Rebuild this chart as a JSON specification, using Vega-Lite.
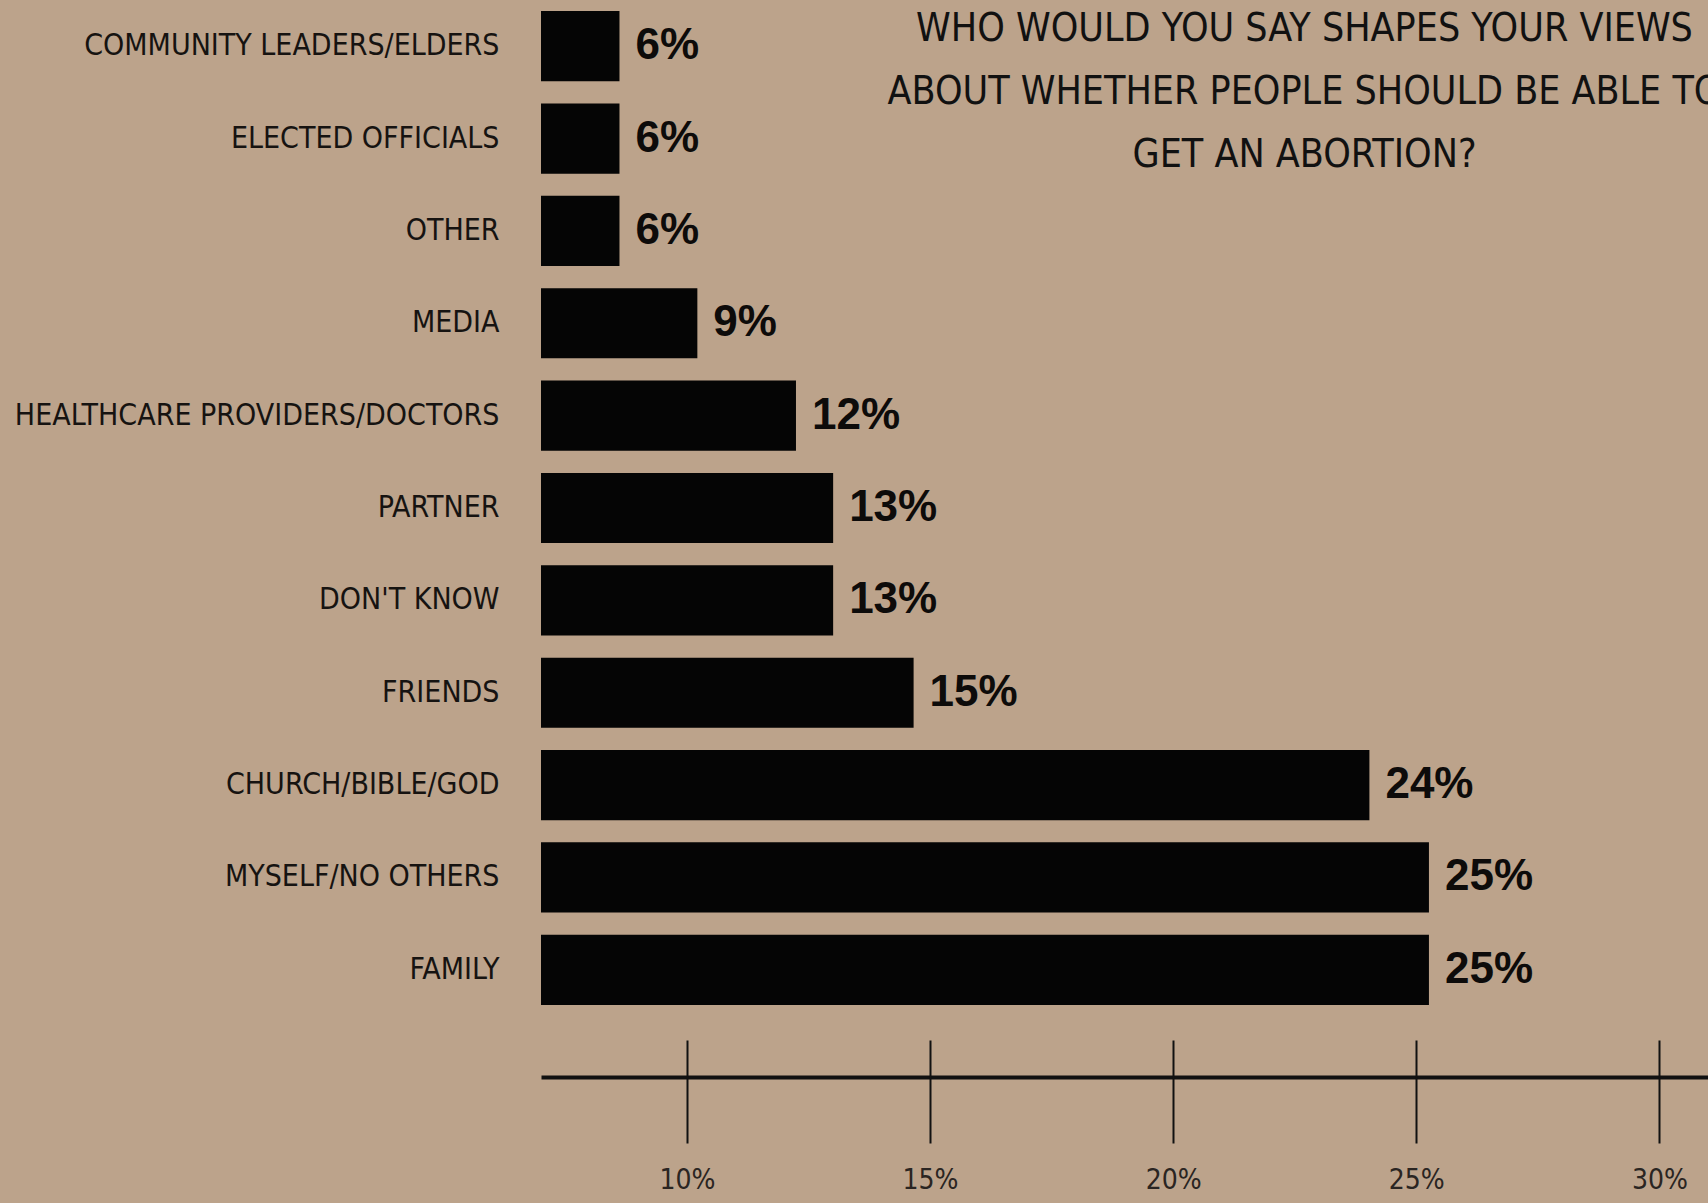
{
  "$schema": "https://vega.github.io/schema/vega-lite/v6.json",
  "width": 1167,
  "height": 1016,
  "autosize": {"type": "none"},
  "padding": {"left": 541, "top": 0, "right": 0, "bottom": 187},
  "background": "#bca38b",
  "title": {
    "text": ["WHO WOULD YOU SAY SHAPES YOUR VIEWS", "ABOUT WHETHER PEOPLE SHOULD BE ABLE TO", "GET AN ABORTION?"],
    "anchor": "middle",
    "frame": "group",
    "dx": 180,
    "baseline": "top",
    "offset": -175,
    "font": "Liberation Sans Narrow, 'DejaVu Sans Condensed', 'Roboto Condensed', sans-serif",
    "fontSize": 39,
    "fontWeight": "normal",
    "color": "#111111",
    "lineHeight": 63
  },
  "layer": [
    {
      "data": {
        "values": [
          {"source": "COMMUNITY LEADERS/ELDERS", "value": 0.06},
          {"source": "ELECTED OFFICIALS", "value": 0.06},
          {"source": "OTHER", "value": 0.06},
          {"source": "MEDIA", "value": 0.09},
          {"source": "HEALTHCARE PROVIDERS/DOCTORS", "value": 0.12},
          {"source": "PARTNER", "value": 0.13},
          {"source": "DON'T KNOW", "value": 0.13},
          {"source": "FRIENDS", "value": 0.15},
          {"source": "CHURCH/BIBLE/GOD", "value": 0.24},
          {"source": "MYSELF/NO OTHERS", "value": 0.25},
          {"source": "FAMILY", "value": 0.25}
        ]
      },
      "encoding": {
        "y": {
          "field": "source",
          "type": "nominal",
          "sort": null,
          "scale": {"paddingInner": 0.24, "paddingOuter": 0.12},
          "axis": {
            "title": null,
            "ticks": false,
            "domain": false,
            "labelPadding": 42,
            "labelLimit": 700,
            "labelFont": "Liberation Sans Narrow, 'DejaVu Sans Condensed', 'Roboto Condensed', sans-serif",
            "labelFontSize": 30,
            "labelColor": "#161311"
          }
        },
        "x": {
          "field": "value",
          "type": "quantitative",
          "scale": {"type": "pow", "exponent": 1.7, "domain": [0, 0.2936], "nice": false},
          "axis": {
            "orient": "bottom",
            "offset": 61,
            "ticks": false,
            "labels": false,
            "grid": false,
            "title": null,
            "domainColor": "#111111",
            "domainWidth": 4
          }
        }
      },
      "layer": [
        {"mark": {"type": "bar", "color": "#050505"}},
        {
          "mark": {
            "type": "text",
            "align": "left",
            "baseline": "middle",
            "dx": 16,
            "font": "Liberation Sans, Arial, sans-serif",
            "fontWeight": "bold",
            "fontSize": 44,
            "color": "#0d0b0a"
          },
          "encoding": {"text": {"field": "value", "type": "quantitative", "format": ".0%"}}
        }
      ]
    },
    {
      "data": {"values": [{"p": 0.10}, {"p": 0.15}, {"p": 0.20}, {"p": 0.25}, {"p": 0.30}]},
      "mark": {"type": "point", "opacity": 0},
      "encoding": {
        "x": {
          "field": "p",
          "type": "quantitative",
          "scale": {"domain": [0.07, 0.31], "nice": false, "zero": false},
          "axis": {
            "orient": "bottom",
            "offset": 24,
            "values": [0.10, 0.15, 0.20, 0.25, 0.30],
            "format": ".0%",
            "tickSize": 103,
            "tickWidth": 2,
            "tickColor": "#111111",
            "domain": false,
            "grid": false,
            "title": null,
            "labelPadding": 23,
            "labelFont": "Liberation Sans Narrow, 'DejaVu Sans Condensed', 'Roboto Condensed', sans-serif",
            "labelFontSize": 28,
            "labelColor": "#2a2522"
          }
        }
      }
    }
  ],
  "resolve": {"scale": {"x": "independent"}, "axis": {"x": "independent"}},
  "config": {"view": {"stroke": null}}
}
